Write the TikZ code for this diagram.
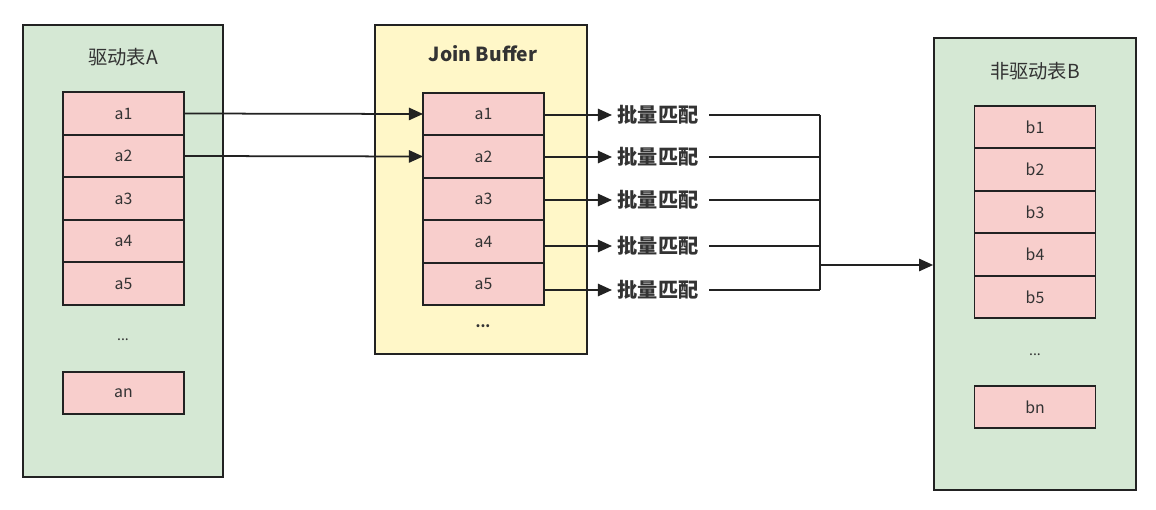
\documentclass[tikz,border=0pt]{standalone}
\usepackage{fontspec}
\setmainfont{Noto Sans CJK SC}
\usepackage{tikz}
\usetikzlibrary{positioning,arrows.meta}
\definecolor{tblgreen}{HTML}{D5E8D4}
\definecolor{bufyellow}{HTML}{FFF7C8}
\definecolor{rowpink}{HTML}{F8CECC}
\definecolor{txtgray}{HTML}{333333}
\definecolor{linedark}{HTML}{222222}
\begin{document}
\begin{tikzpicture}[x=0.02cm, y=-0.02cm,
    container/.style={draw=linedark, line width=1pt, minimum width=#1},
    cell/.style={draw=linedark, line width=1pt, fill=rowpink, text=txtgray, font=\fontsize{9}{10}\selectfont,
      minimum width=2.42cm, minimum height=0.85cm, inner sep=0pt, outer sep=0pt},
    title/.style={text=txtgray, font=\fontsize{11}{12}\selectfont},
    match/.style={text=txtgray, font=\bfseries\fontsize{11.5}{12}\selectfont, inner sep=3pt},
    dots/.style={text=txtgray, font=\fontsize{8}{9}\selectfont},
    arr/.style={draw=linedark, line width=1pt, -{Triangle[length=8pt,width=7pt]}},
    wire/.style={draw=linedark, line width=1pt}]
    \useasboundingbox (0,0) rectangle (1156,510);

    % three tables
    \node[container=4cm, minimum height=9.04cm, fill=tblgreen] (tblA) at (123,251) {};
    \node[container=4.24cm, minimum height=6.58cm, fill=bufyellow] (buf) at (481,189.5) {};
    \node[container=4.04cm, minimum height=9.04cm, fill=tblgreen] (tblB) at (1035,264) {};

    \node[title] (titleA) at (123,57) {驱动表A};
    \node[title, font=\bfseries\fontsize{11}{12}\selectfont] (titlebuf) at (483,54) {Join Buffer};
    \node[title] (titleB) at (1035,71) {非驱动表B};

    % rows of A
    \node[cell] (a1) at (123.5,113.5) {a1};
    \node[cell, below=0pt of a1] (a2) {a2};
    \node[cell, below=0pt of a2] (a3) {a3};
    \node[cell, below=0pt of a3] (a4) {a4};
    \node[cell, below=0pt of a4] (a5) {a5};
    \node[dots] (adots) at (123,340) {...};
    \node[cell] (an) at (123.5,393) {an};

    % rows of the buffer
    \node[cell] (ja1) at (483.5,114) {a1};
    \node[cell, below=0pt of ja1] (ja2) {a2};
    \node[cell, below=0pt of ja2] (ja3) {a3};
    \node[cell, below=0pt of ja3] (ja4) {a4};
    \node[cell, below=0pt of ja4] (ja5) {a5};
    \node[dots, font=\bfseries\fontsize{8}{9}\selectfont] (jdots) at (483,326) {...};

    % rows of B
    \node[cell] (b1) at (1035,127) {b1};
    \node[cell, below=0pt of b1] (b2) {b2};
    \node[cell, below=0pt of b2] (b3) {b3};
    \node[cell, below=0pt of b3] (b4) {b4};
    \node[cell, below=0pt of b4] (b5) {b5};
    \node[dots] (bdots) at (1035,355) {...};
    \node[cell] (bn) at (1035,407) {bn};

    % A into the buffer
    \draw[arr] (a1.east) -- (ja1.west);
    \draw[arr] (a2.east) -- (ja2.west);

    % batch matching
    \node[match, anchor=west] (m1) at (612,115) {批量匹配};
    \node[match, anchor=west] (m2) at (612,157) {批量匹配};
    \node[match, anchor=west] (m3) at (612,200) {批量匹配};
    \node[match, anchor=west] (m4) at (612,246) {批量匹配};
    \node[match, anchor=west] (m5) at (612,290) {批量匹配};
    \coordinate (bus) at (820,265);

    \foreach \i in {1,...,5} {
      \draw[arr] (ja\i.east |- m\i.west) -- (m\i.west);
      \draw[wire] ([xshift=3pt]m\i.east) -- (m\i.east -| bus);
    }
    \draw[wire] (bus |- m1) -- (bus |- m5);
    \draw[arr] (bus) -- (bus -| tblB.west);
\end{tikzpicture}
\end{document}
